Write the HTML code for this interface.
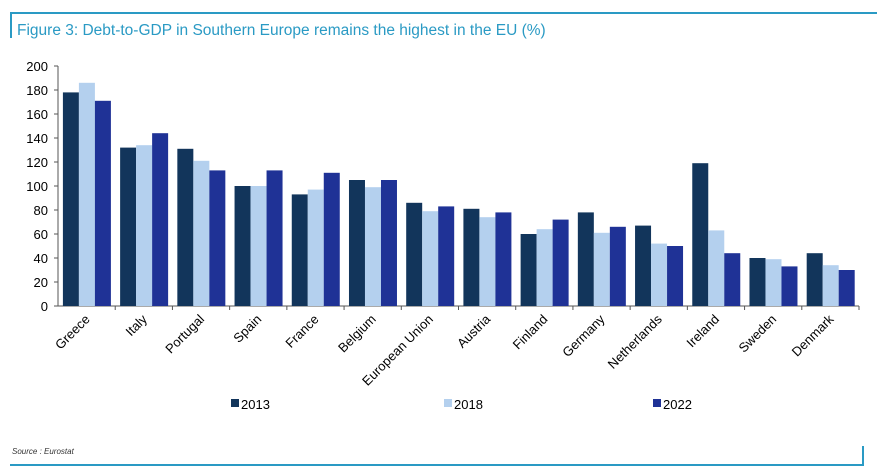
<!DOCTYPE html>
<html><head><meta charset="utf-8"><style>
body{margin:0;background:#fff;width:877px;height:472px;overflow:hidden;font-family:"Liberation Sans",Arial,sans-serif}
svg{display:block}
</style></head><body>
<svg id="c" width="877" height="472">
<line x1="10" y1="13" x2="877" y2="13" stroke="#2a9ac4" stroke-width="2"/>
<line x1="11" y1="13" x2="11" y2="38" stroke="#2a9ac4" stroke-width="2"/>
<text x="17" y="35" font-size="15.5" fill="#2a9ac4">Figure 3: Debt-to-GDP in Southern Europe remains the highest in the EU (%)</text>
<line x1="10" y1="465" x2="863" y2="465" stroke="#2a9ac4" stroke-width="2"/>
<line x1="863" y1="446" x2="863" y2="466" stroke="#2a9ac4" stroke-width="2"/>
<text x="12" y="454" font-size="8" font-style="italic" fill="#333">Source : Eurostat</text>
<g id="plot"></g>
</svg>
<script>
const categories=["Greece","Italy","Portugal","Spain","France","Belgium","European Union","Austria","Finland","Germany","Netherlands","Ireland","Sweden","Denmark"];
const s2013=[178,132,131,100,93,105,86,81,60,78,67,119,40,44];
const s2018=[186,134,121,100,97,99,79,74,64,61,52,63,39,34];
const s2022=[171,144,113,113,111,105,83,78,72,66,50,44,33,30];
const seriesNames=["2013","2018","2022"];
const yTicks=[0,20,40,60,80,100,120,140,160,180,200];
const colors=["#12355b","#b4d0ee","#1f3296"];
const NS="http://www.w3.org/2000/svg";
const g=document.getElementById('plot');
const X0=58,X1=859,Y0=306,Y1=66,YMAX=200;
const step=(X1-X0)/categories.length;
const y=v=>Y0-(v/YMAX)*(Y0-Y1);
const x=i=>X0+i*step;
function mk(t,a){const e=document.createElementNS(NS,t);for(const k in a)e.setAttribute(k,a[k]);g.appendChild(e);return e;}
let e=mk('line',{x1:X0,y1:Y1,x2:X0,y2:Y0,stroke:'#555'});


e=mk('line',{x1:X0,y1:Y0,x2:X1,y2:Y0,stroke:'#555'});


yTicks.forEach(v=>{
 let t=mk('line',{x1:X0-4,y1:y(v),x2:X0,y2:y(v),stroke:'#555'});
 
 
 let l=mk('text',{x:X0-10,y:y(v)+5,'font-size':13,'text-anchor':'end',fill:'#000'});
 l.textContent=v;
 
 
});
const series=[s2013,s2018,s2022];
categories.forEach((c,i)=>{
 let t=mk('line',{x1:x(i+1),y1:Y0,x2:x(i+1),y2:Y0+4,stroke:'#555'});
 
 
 const bw=16,off=(step-3*bw)/2+0.3;
 series.forEach((s,k)=>{
  let r=mk('rect',{x:x(i)+off+k*bw,y:y(s[i]),width:bw,height:Y0-y(s[i]),fill:colors[k]});
  
  
 });
 const cx=x(i)+step/2+4,cy=Y0+14;
 let l=mk('text',{x:cx,y:cy,'font-size':13,'text-anchor':'end',transform:`rotate(-45 ${cx} ${cy})`,fill:'#000'});
 l.textContent=c;
 
 
});
const legX=[231,444,653];
seriesNames.forEach((n,k)=>{
 let r=mk('rect',{x:legX[k],y:399,width:8,height:8,fill:colors[k]});
 
 
 let t=mk('text',{x:legX[k]+10,y:409,'font-size':13,fill:'#000'});
 t.textContent=n;
 
 
});
</script>
</body></html>
